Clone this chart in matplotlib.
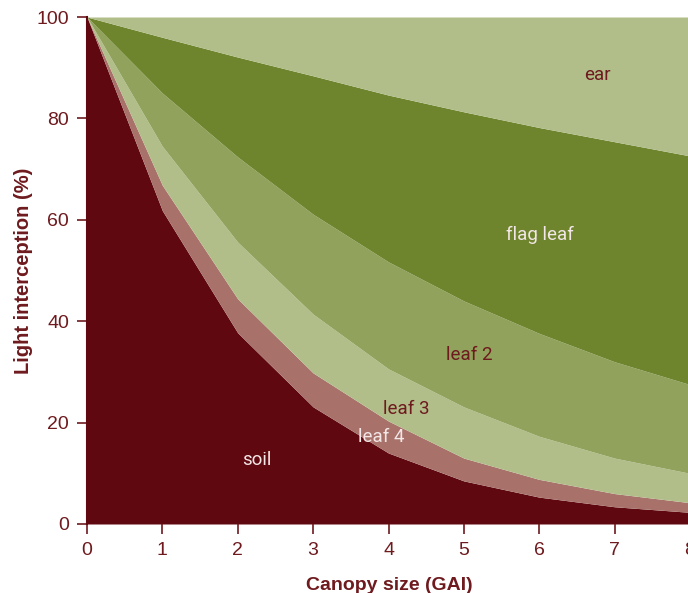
import numpy as np
from matplotlib import pyplot as plt

# canopy size (GAI)
gai = [0, 1, 2, 3, 4, 5, 6, 7, 8]

# cumulative top of each layer (% light intercepted)
soil_top = [100, 61.8, 37.7, 23.1, 14.0, 8.5, 5.3, 3.4, 2.3]
leaf4_top = [100, 66.8, 44.4, 29.8, 20.3, 13.0, 8.8, 6.0, 4.2]
leaf3_top = [100, 74.5, 55.6, 41.4, 30.6, 23.1, 17.3, 13.0, 10.0]
leaf2_top = [100, 85.0, 72.4, 61.1, 51.7, 44.0, 37.6, 32.0, 27.5]
flag_top = [100, 96.0, 92.1, 88.4, 84.6, 81.3, 78.2, 75.4, 72.6]
ear_top = [100, 100, 100, 100, 100, 100, 100, 100, 100]

layers = ["soil", "leaf 4", "leaf 3", "leaf 2", "flag leaf", "ear"]
colors = ["#600810", "#a8726a", "#b1be89", "#90a25b", "#6e852e", "#b1be89"]
label_x = [2.25, 3.9, 4.24, 5.07, 6.01, 6.77]
label_y = [12.6, 17.2, 22.7, 33.3, 57.0, 88.6]
label_col = ["#f2e6e6", "#f2e6e6", "#6e1a1e", "#6e1a1e", "#f2e6e6", "#6e1a1e"]

dark = "#6e1a1e"
cond = ["Liberation Sans Narrow", "Liberation Sans", "DejaVu Sans"]

fig = plt.figure(figsize=(6.88, 5.93), dpi=100)
ax = fig.add_axes([87 / 688, 69 / 593, 603 / 688, 507 / 593])

tops = [soil_top, leaf4_top, leaf3_top, leaf2_top, flag_top, ear_top]
lower = np.zeros(len(gai))
for top, c in zip(tops, colors):
    ax.fill_between(gai, lower, top, color=c, linewidth=0)
    lower = np.array(top)

for name, x, y, c in zip(layers, label_x, label_y, label_col):
    ax.text(x, y, name, color=c, fontsize=13.5, family="Roboto",
            ha="center", va="center")

ax.set_xlim(0, 8)
ax.set_ylim(0, 100)
ax.set_xticks(gai)
ax.set_yticks([0, 20, 40, 60, 80, 100])

for s in ["top", "right", "bottom"]:
    ax.spines[s].set_visible(False)
ax.spines["left"].set_color("#600810")
ax.spines["left"].set_linewidth(1.5)

ax.tick_params(colors=dark, length=7, width=1.2, labelsize=14, pad=6)
for lab in ax.get_xticklabels() + ax.get_yticklabels():
    lab.set_family(cond)
    lab.set_stretch("condensed")
    lab.set_color(dark)

ax.set_xlabel("Canopy size (GAI)", fontsize=14, fontweight="bold", color=dark,
              family=cond, stretch="condensed")
ax.set_ylabel("Light interception (%)", fontsize=14.5, fontweight="bold", color=dark,
              family=cond, stretch="condensed")
ax.xaxis.set_label_coords(0.502, -0.104)
ax.yaxis.set_label_coords(-0.09, 0.50)

fig.savefig("out.png", dpi=100)
